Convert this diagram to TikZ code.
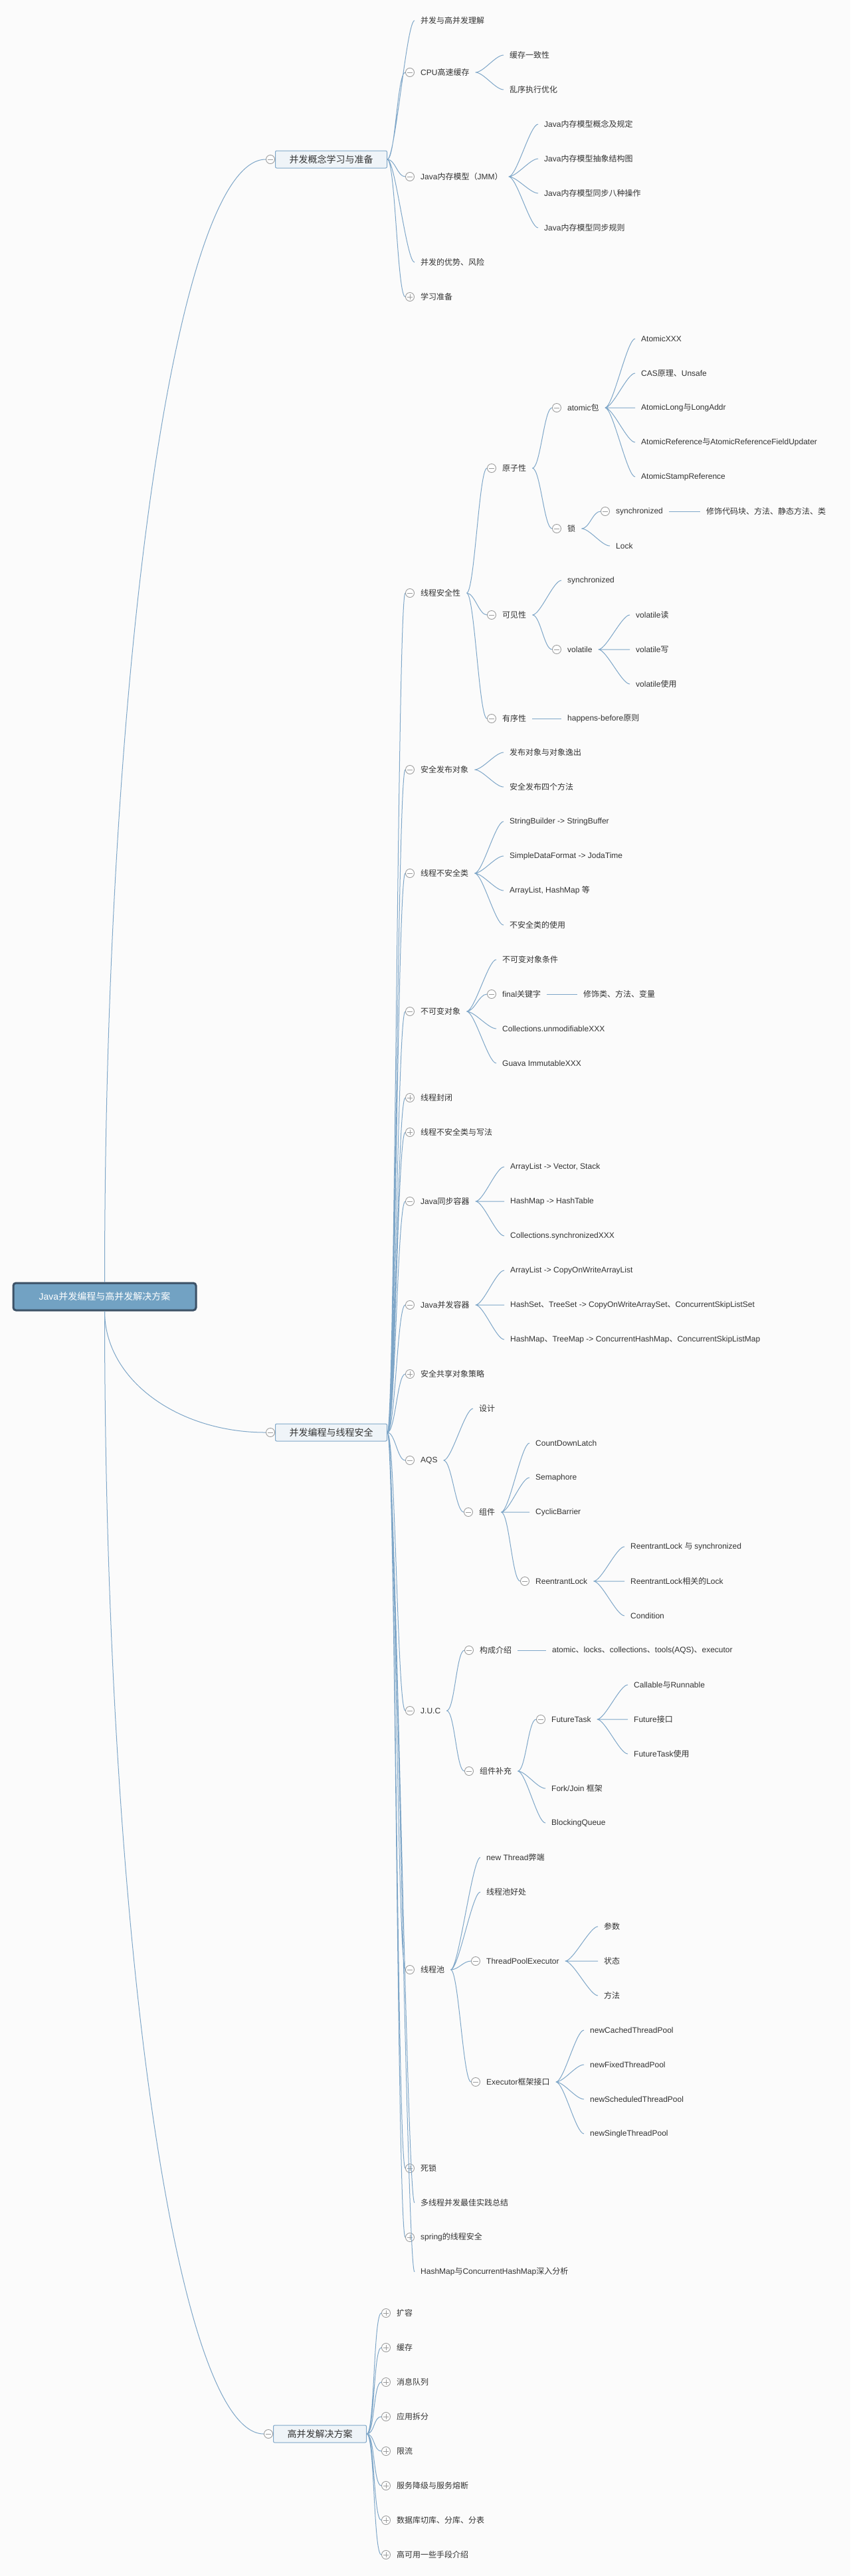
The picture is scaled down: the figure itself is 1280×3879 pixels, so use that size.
\documentclass[tikz,border=0pt]{standalone}
\usepackage{fontspec}
\setmainfont{Liberation Sans}
\newfontfamily\zhfont{Noto Sans CJK SC}
\XeTeXinterchartokenstate=1
\newXeTeXintercharclass\zhclass
\newcount\zhcount
\newcommand\zhrange[2]{\zhcount=#1\relax
  \loop\XeTeXcharclass\zhcount=\zhclass
  \ifnum\zhcount<#2\advance\zhcount by 1\repeat}
\zhrange{"3000}{"303F}
\zhrange{"4E00}{"9FFF}
\zhrange{"FF00}{"FFEF}
\XeTeXinterchartoks 0 \zhclass={\zhfont}
\XeTeXinterchartoks 4095 \zhclass={\zhfont}
\XeTeXinterchartoks \zhclass 0={\rmfamily}
\XeTeXinterchartoks 4095 0={\rmfamily}
\definecolor{bgwhite}{HTML}{FBFBFB}
\definecolor{textgray}{HTML}{333333}
\definecolor{linkblue}{HTML}{7EA6C8}
\definecolor{foldgray}{HTML}{9B9B9B}
\definecolor{topicfill}{HTML}{EFF4F8}
\definecolor{topicline}{HTML}{7EA6C8}
\definecolor{rootfill}{HTML}{72A2C3}
\definecolor{rootline}{HTML}{3C5166}

\begin{document}
\begin{tikzpicture}[x=1pt,y=-1pt,
  every node/.style={text=textgray},
  leaf/.style={anchor=west,inner xsep=9pt,inner ysep=3pt,font=\fontsize{12pt}{14pt}\selectfont},
  topic/.style={anchor=west,draw=topicline,fill=topicfill,line width=1pt,rounded corners=2pt,
    minimum height=26pt,inner xsep=21pt,font=\fontsize{14pt}{16pt}\selectfont},
  central/.style={draw=rootline,fill=rootfill,text=white,line width=3pt,rounded corners=4pt,
    minimum width=275pt,minimum height=41pt,font=\fontsize{14pt}{16pt}\selectfont},
  fold/.style={circle,draw=foldgray,fill=white,line width=0.9pt,minimum size=13pt,inner sep=0pt},
  minus/.style={fold,path picture={\draw[foldgray,line width=0.9pt]
    ([xshift=-4pt]path picture bounding box.center) -- ([xshift=4pt]path picture bounding box.center);}},
  plus/.style={fold,path picture={\draw[foldgray,line width=0.9pt]
    ([xshift=-4pt]path picture bounding box.center) -- ([xshift=4pt]path picture bounding box.center)
    ([yshift=-4pt]path picture bounding box.center) -- ([yshift=4pt]path picture bounding box.center);}},
  link/.style={draw=linkblue,line width=1pt,
    to path={.. controls ([xshift=12pt]\tikztostart) and ([xshift=-12pt]\tikztotarget) .. (\tikztotarget)}}]
\fill[bgwhite] (0,0) rectangle (1280,3879);
\useasboundingbox (0,0) rectangle (1280,3879);

\node[central] (root) at (157.5,1952.5) {Java并发编程与高并发解决方案};

\node[topic] (prep) at (414,240) {并发概念学习与准备};
\node[minus] (prep-f) at ([xshift=-7pt]prep.west) {};
\node[leaf] (prep1) at (624,31) {并发与高并发理解};
\node[leaf] (cpu) at (624,109) {CPU高速缓存};
\node[minus] (cpu-f) at ([xshift=-7pt]cpu.west) {};
\node[leaf] (cpu1) at (758,83) {缓存一致性};
\node[leaf] (cpu2) at (758,135) {乱序执行优化};
\node[leaf] (jmm) at (624,266) {Java内存模型（JMM）};
\node[minus] (jmm-f) at ([xshift=-7pt]jmm.west) {};
\node[leaf] (jmm1) at (810,187) {Java内存模型概念及规定};
\node[leaf] (jmm2) at (810,239) {Java内存模型抽象结构图};
\node[leaf] (jmm3) at (810,291) {Java内存模型同步八种操作};
\node[leaf] (jmm4) at (810,343) {Java内存模型同步规则};
\node[leaf] (risk) at (624,395) {并发的优势、风险};
\node[leaf] (study) at (624,447) {学习准备};
\node[plus] (study-f) at ([xshift=-7pt]study.west) {};

\node[topic] (safe) at (414,2157) {并发编程与线程安全};
\node[minus] (safe-f) at ([xshift=-7pt]safe.west) {};
\node[leaf] (ts) at (624,893) {线程安全性};
\node[minus] (ts-f) at ([xshift=-7pt]ts.west) {};
\node[leaf] (atom) at (747,705) {原子性};
\node[minus] (atom-f) at ([xshift=-7pt]atom.west) {};
\node[leaf] (apkg) at (845,614) {atomic包};
\node[minus] (apkg-f) at ([xshift=-7pt]apkg.west) {};
\node[leaf] (apkg1) at (956,510) {AtomicXXX};
\node[leaf] (apkg2) at (956,562) {CAS原理、Unsafe};
\node[leaf] (apkg3) at (956,614) {AtomicLong与LongAddr};
\node[leaf] (apkg4) at (956,666) {AtomicReference与AtomicReferenceFieldUpdater};
\node[leaf] (apkg5) at (956,718) {AtomicStampReference};
\node[leaf] (lock) at (845,796) {锁};
\node[minus] (lock-f) at ([xshift=-7pt]lock.west) {};
\node[leaf] (sync) at (918,770) {synchronized};
\node[minus] (sync-f) at ([xshift=-7pt]sync.west) {};
\node[leaf] (sync1) at (1054,770) {修饰代码块、方法、静态方法、类};
\node[leaf] (lockif) at (918,822) {Lock};
\node[leaf] (vis) at (747,926) {可见性};
\node[minus] (vis-f) at ([xshift=-7pt]vis.west) {};
\node[leaf] (vis1) at (845,874) {synchronized};
\node[leaf] (vol) at (845,978) {volatile};
\node[minus] (vol-f) at ([xshift=-7pt]vol.west) {};
\node[leaf] (vol1) at (948,926) {volatile读};
\node[leaf] (vol2) at (948,978) {volatile写};
\node[leaf] (vol3) at (948,1030) {volatile使用};
\node[leaf] (ord) at (747,1082) {有序性};
\node[minus] (ord-f) at ([xshift=-7pt]ord.west) {};
\node[leaf] (ord1) at (845,1082) {happens-before原则};
\node[leaf] (pub) at (624,1159) {安全发布对象};
\node[minus] (pub-f) at ([xshift=-7pt]pub.west) {};
\node[leaf] (pub1) at (758,1133) {发布对象与对象逸出};
\node[leaf] (pub2) at (758,1185) {安全发布四个方法};
\node[leaf] (unsafe) at (624,1315) {线程不安全类};
\node[minus] (unsafe-f) at ([xshift=-7pt]unsafe.west) {};
\node[leaf] (unsafe1) at (758,1237) {StringBuilder -> StringBuffer};
\node[leaf] (unsafe2) at (758,1289) {SimpleDataFormat -> JodaTime};
\node[leaf] (unsafe3) at (758,1341) {ArrayList, HashMap 等};
\node[leaf] (unsafe4) at (758,1393) {不安全类的使用};
\node[leaf] (immu) at (624,1523) {不可变对象};
\node[minus] (immu-f) at ([xshift=-7pt]immu.west) {};
\node[leaf] (immu1) at (747,1445) {不可变对象条件};
\node[leaf] (fin) at (747,1497) {final关键字};
\node[minus] (fin-f) at ([xshift=-7pt]fin.west) {};
\node[leaf] (fin1) at (869,1497) {修饰类、方法、变量};
\node[leaf] (immu2) at (747,1549) {Collections.unmodifiableXXX};
\node[leaf] (immu3) at (747,1601) {Guava ImmutableXXX};
\node[leaf] (confine) at (624,1653) {线程封闭};
\node[plus] (confine-f) at ([xshift=-7pt]confine.west) {};
\node[leaf] (unsafew) at (624,1705) {线程不安全类与写法};
\node[plus] (unsafew-f) at ([xshift=-7pt]unsafew.west) {};
\node[leaf] (syncc) at (624,1809) {Java同步容器};
\node[minus] (syncc-f) at ([xshift=-7pt]syncc.west) {};
\node[leaf] (syncc1) at (759,1757) {ArrayList -> Vector, Stack};
\node[leaf] (syncc2) at (759,1809) {HashMap -> HashTable};
\node[leaf] (syncc3) at (759,1861) {Collections.synchronizedXXX};
\node[leaf] (conc) at (624,1965) {Java并发容器};
\node[minus] (conc-f) at ([xshift=-7pt]conc.west) {};
\node[leaf] (conc1) at (759,1913) {ArrayList -> CopyOnWriteArrayList};
\node[leaf] (conc2) at (759,1965) {HashSet、TreeSet -> CopyOnWriteArraySet、ConcurrentSkipListSet};
\node[leaf] (conc3) at (759,2017) {HashMap、TreeMap -> ConcurrentHashMap、ConcurrentSkipListMap};
\node[leaf] (share) at (624,2069) {安全共享对象策略};
\node[plus] (share-f) at ([xshift=-7pt]share.west) {};
\node[leaf] (aqs) at (624,2199) {AQS};
\node[minus] (aqs-f) at ([xshift=-7pt]aqs.west) {};
\node[leaf] (aqs1) at (712,2121) {设计};
\node[leaf] (comp) at (712,2277) {组件};
\node[minus] (comp-f) at ([xshift=-7pt]comp.west) {};
\node[leaf] (comp1) at (797,2173) {CountDownLatch};
\node[leaf] (comp2) at (797,2225) {Semaphore};
\node[leaf] (comp3) at (797,2277) {CyclicBarrier};
\node[leaf] (rlock) at (797,2381) {ReentrantLock};
\node[minus] (rlock-f) at ([xshift=-7pt]rlock.west) {};
\node[leaf] (rlock1) at (940,2329) {ReentrantLock 与 synchronized};
\node[leaf] (rlock2) at (940,2381) {ReentrantLock相关的Lock};
\node[leaf] (rlock3) at (940,2433) {Condition};
\node[leaf] (juc) at (624,2576) {J.U.C};
\node[minus] (juc-f) at ([xshift=-7pt]juc.west) {};
\node[leaf] (jucc) at (713,2485) {构成介绍};
\node[minus] (jucc-f) at ([xshift=-7pt]jucc.west) {};
\node[leaf] (jucc1) at (822,2485) {atomic、locks、collections、tools(AQS)、executor};
\node[leaf] (juce) at (713,2667) {组件补充};
\node[minus] (juce-f) at ([xshift=-7pt]juce.west) {};
\node[leaf] (ftask) at (821,2589) {FutureTask};
\node[minus] (ftask-f) at ([xshift=-7pt]ftask.west) {};
\node[leaf] (ftask1) at (945,2537) {Callable与Runnable};
\node[leaf] (ftask2) at (945,2589) {Future接口};
\node[leaf] (ftask3) at (945,2641) {FutureTask使用};
\node[leaf] (fj) at (821,2693) {Fork/Join 框架};
\node[leaf] (bq) at (821,2745) {BlockingQueue};
\node[leaf] (pool) at (624,2966) {线程池};
\node[minus] (pool-f) at ([xshift=-7pt]pool.west) {};
\node[leaf] (pool1) at (723,2797) {new Thread弊端};
\node[leaf] (pool2) at (723,2849) {线程池好处};
\node[leaf] (tpe) at (723,2953) {ThreadPoolExecutor};
\node[minus] (tpe-f) at ([xshift=-7pt]tpe.west) {};
\node[leaf] (tpe1) at (900,2901) {参数};
\node[leaf] (tpe2) at (900,2953) {状态};
\node[leaf] (tpe3) at (900,3005) {方法};
\node[leaf] (exec) at (723,3135) {Executor框架接口};
\node[minus] (exec-f) at ([xshift=-7pt]exec.west) {};
\node[leaf] (exec1) at (879,3057) {newCachedThreadPool};
\node[leaf] (exec2) at (879,3109) {newFixedThreadPool};
\node[leaf] (exec3) at (879,3161) {newScheduledThreadPool};
\node[leaf] (exec4) at (879,3213) {newSingleThreadPool};
\node[leaf] (dead) at (624,3265) {死锁};
\node[plus] (dead-f) at ([xshift=-7pt]dead.west) {};
\node[leaf] (best) at (624,3317) {多线程并发最佳实践总结};
\node[leaf] (spring) at (624,3369) {spring的线程安全};
\node[plus] (spring-f) at ([xshift=-7pt]spring.west) {};
\node[leaf] (hmap) at (624,3421) {HashMap与ConcurrentHashMap深入分析};

\node[topic] (high) at (411,3665) {高并发解决方案};
\node[minus] (high-f) at ([xshift=-7pt]high.west) {};
\node[leaf] (high1) at (588,3483) {扩容};
\node[plus] (high1-f) at ([xshift=-7pt]high1.west) {};
\node[leaf] (high2) at (588,3535) {缓存};
\node[plus] (high2-f) at ([xshift=-7pt]high2.west) {};
\node[leaf] (high3) at (588,3587) {消息队列};
\node[plus] (high3-f) at ([xshift=-7pt]high3.west) {};
\node[leaf] (high4) at (588,3639) {应用拆分};
\node[plus] (high4-f) at ([xshift=-7pt]high4.west) {};
\node[leaf] (high5) at (588,3691) {限流};
\node[plus] (high5-f) at ([xshift=-7pt]high5.west) {};
\node[leaf] (high6) at (588,3743) {服务降级与服务熔断};
\node[plus] (high6-f) at ([xshift=-7pt]high6.west) {};
\node[leaf] (high7) at (588,3795) {数据库切库、分库、分表};
\node[plus] (high7-f) at ([xshift=-7pt]high7.west) {};
\node[leaf] (high8) at (588,3847) {高可用一些手段介绍};
\node[plus] (high8-f) at ([xshift=-7pt]high8.west) {};

\draw[link] (root.north) .. controls +(0,-934) and +(-134,0) .. (prep-f.west);
\draw[link] (root.south) .. controls +(0,102) and +(-134,0) .. (safe-f.west);
\draw[link] (root.south) .. controls +(0,934) and +(-132,0) .. (high-f.west);

\draw[link] (prep.east) to (prep1.west) (prep.east) to (cpu-f.west) (prep.east) to (jmm-f.west)
  (prep.east) to (risk.west) (prep.east) to (study-f.west);
\draw[link] (cpu.east) to (cpu1.west) (cpu.east) to (cpu2.west);
\draw[link] (jmm.east) to (jmm1.west) (jmm.east) to (jmm2.west) (jmm.east) to (jmm3.west)
  (jmm.east) to (jmm4.west);

\draw[link] (safe.east) to (ts-f.west) (safe.east) to (pub-f.west) (safe.east) to (unsafe-f.west)
  (safe.east) to (immu-f.west) (safe.east) to (confine-f.west) (safe.east) to (unsafew-f.west)
  (safe.east) to (syncc-f.west) (safe.east) to (conc-f.west) (safe.east) to (share-f.west)
  (safe.east) to (aqs-f.west) (safe.east) to (juc-f.west) (safe.east) to (pool-f.west)
  (safe.east) to (dead-f.west) (safe.east) to (best.west) (safe.east) to (spring-f.west)
  (safe.east) to (hmap.west);
\draw[link] (ts.east) to (atom-f.west) (ts.east) to (vis-f.west) (ts.east) to (ord-f.west);
\draw[link] (atom.east) to (apkg-f.west) (atom.east) to (lock-f.west);
\draw[link] (apkg.east) to (apkg1.west) (apkg.east) to (apkg2.west) (apkg.east) to (apkg3.west)
  (apkg.east) to (apkg4.west) (apkg.east) to (apkg5.west);
\draw[link] (lock.east) to (sync-f.west) (lock.east) to (lockif.west);
\draw[link] (sync.east) to (sync1.west);
\draw[link] (vis.east) to (vis1.west) (vis.east) to (vol-f.west);
\draw[link] (vol.east) to (vol1.west) (vol.east) to (vol2.west) (vol.east) to (vol3.west);
\draw[link] (ord.east) to (ord1.west);
\draw[link] (pub.east) to (pub1.west) (pub.east) to (pub2.west);
\draw[link] (unsafe.east) to (unsafe1.west) (unsafe.east) to (unsafe2.west)
  (unsafe.east) to (unsafe3.west) (unsafe.east) to (unsafe4.west);
\draw[link] (immu.east) to (immu1.west) (immu.east) to (fin-f.west) (immu.east) to (immu2.west)
  (immu.east) to (immu3.west);
\draw[link] (fin.east) to (fin1.west);
\draw[link] (syncc.east) to (syncc1.west) (syncc.east) to (syncc2.west) (syncc.east) to (syncc3.west);
\draw[link] (conc.east) to (conc1.west) (conc.east) to (conc2.west) (conc.east) to (conc3.west);
\draw[link] (aqs.east) to (aqs1.west) (aqs.east) to (comp-f.west);
\draw[link] (comp.east) to (comp1.west) (comp.east) to (comp2.west) (comp.east) to (comp3.west)
  (comp.east) to (rlock-f.west);
\draw[link] (rlock.east) to (rlock1.west) (rlock.east) to (rlock2.west) (rlock.east) to (rlock3.west);
\draw[link] (juc.east) to (jucc-f.west) (juc.east) to (juce-f.west);
\draw[link] (jucc.east) to (jucc1.west);
\draw[link] (juce.east) to (ftask-f.west) (juce.east) to (fj.west) (juce.east) to (bq.west);
\draw[link] (ftask.east) to (ftask1.west) (ftask.east) to (ftask2.west) (ftask.east) to (ftask3.west);
\draw[link] (pool.east) to (pool1.west) (pool.east) to (pool2.west) (pool.east) to (tpe-f.west)
  (pool.east) to (exec-f.west);
\draw[link] (tpe.east) to (tpe1.west) (tpe.east) to (tpe2.west) (tpe.east) to (tpe3.west);
\draw[link] (exec.east) to (exec1.west) (exec.east) to (exec2.west) (exec.east) to (exec3.west)
  (exec.east) to (exec4.west);

\draw[link] (high.east) to (high1-f.west) (high.east) to (high2-f.west) (high.east) to (high3-f.west)
  (high.east) to (high4-f.west) (high.east) to (high5-f.west) (high.east) to (high6-f.west)
  (high.east) to (high7-f.west) (high.east) to (high8-f.west);
\end{tikzpicture}
\end{document}
